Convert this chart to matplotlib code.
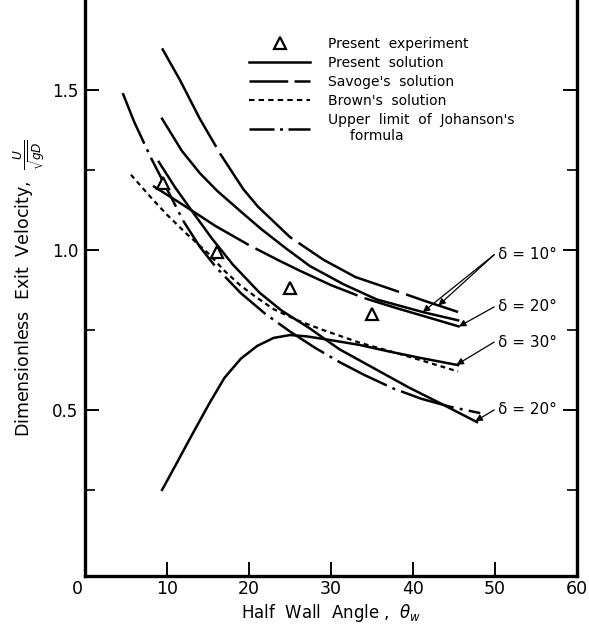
import matplotlib
matplotlib.use("Agg")
import matplotlib.pyplot as plt
from matplotlib.lines import Line2D
import matplotlib.transforms as mtransforms
import numpy as np

plt.rcParams['font.family'] = ['DejaVu Sans']
plt.rcParams['mathtext.fontset'] = 'dejavusans'

# ---- data ----
exp_theta = [9.5, 16.1, 25.0, 35.0]
exp_u = [1.21, 0.995, 0.88, 0.80]

savage10_x = [9.4, 11.6, 14.0, 16.5, 19.3, 21.1, 25.0, 29.1, 33.0, 37.6, 41.5, 45.5]
savage10_y = [1.63, 1.53, 1.41, 1.30, 1.19, 1.135, 1.04, 0.969, 0.915, 0.875, 0.84, 0.806]

present10_x = [9.4, 11.8, 14.0, 16.1, 19.0, 21.5, 24.5, 27.4, 31.5, 35.6, 41.3, 45.5]
present10_y = [1.41, 1.31, 1.24, 1.185, 1.12, 1.065, 1.005, 0.95, 0.893, 0.845, 0.805, 0.78]

savage20_x = [8.3, 12.0, 15.9, 20.0, 23.8, 26.2, 30.0, 34.0, 38.0, 42.0, 45.7]
savage20_y = [1.20, 1.14, 1.075, 1.015, 0.965, 0.935, 0.89, 0.85, 0.818, 0.788, 0.76]

present30_x = [9.4, 11.0, 13.0, 15.2, 17.0, 19.0, 21.0, 23.0, 25.0, 27.0, 30.0, 33.5, 37.0, 41.0, 45.5]
present30_y = [0.25, 0.325, 0.42, 0.522, 0.60, 0.66, 0.70, 0.725, 0.734, 0.73, 0.718, 0.703, 0.683, 0.662, 0.64]

brown_x = [5.6, 8.0, 10.0, 12.4, 15.0, 17.0, 18.9, 21.0, 23.0, 25.9, 29.0, 33.5, 37.0, 41.0, 45.5]
brown_y = [1.235, 1.165, 1.11, 1.05, 0.99, 0.935, 0.89, 0.85, 0.815, 0.78, 0.75, 0.71, 0.685, 0.655, 0.62]

present20_x = [9.0, 11.0, 13.2, 15.5, 18.0, 21.3, 24.0, 27.4, 31.0, 35.6, 39.5, 43.7, 47.8]
present20_y = [1.275, 1.195, 1.116, 1.035, 0.955, 0.866, 0.81, 0.755, 0.69, 0.625, 0.57, 0.516, 0.462]

johanson_x = [4.6, 6.0, 8.0, 10.0, 12.0, 14.0, 16.0, 19.0, 22.0, 25.0, 28.0, 31.0, 34.0, 37.6, 41.0, 44.5, 48.2]
johanson_y = [1.49, 1.40, 1.29, 1.19, 1.09, 1.01, 0.945, 0.865, 0.80, 0.745, 0.695, 0.65, 0.61, 0.567, 0.535, 0.51, 0.49]

x_ticks = [0, 10, 20, 30, 40, 50, 60]
x_tick_labels = ['0', '10', '20', '30', '40', '50', '60']
y_ticks = [0.5, 1.0, 1.5]
y_tick_labels = ['0.5', '1.0', '1.5']
y_minor = [0.25, 0.75, 1.25]

delta_labels = ['δ = 10°', 'δ = 20°', 'δ = 30°', 'δ = 20°']
legend_labels = ['Present  experiment', 'Present  solution', "Savoge's  solution",
                 "Brown's  solution", "Upper  limit  of  Johanson's\n     formula"]

# ---- figure ----
fig = plt.figure(figsize=(5.89, 6.28), dpi=100)
ax = fig.add_axes([85/589, 52/628, 492/589, 576/628])
ax.set_xlim(0, 60)
ax.set_ylim(-0.019, 1.781)

lw = 1.8
savage_ls = (0, (45, 3))
brown_ls = (0, (2.2, 1.8))
joh_ls = (0, (22, 2.5, 1.2, 2.5))

ax.plot(exp_theta, exp_u, linestyle='none', marker='^', ms=9,
        mfc='white', mec='black', mew=1.6, zorder=5)
ax.plot(present10_x, present10_y, color='black', lw=lw)
ax.plot(present20_x, present20_y, color='black', lw=lw)
ax.plot(present30_x, present30_y, color='black', lw=lw)
ax.plot(savage10_x, savage10_y, color='black', lw=lw, linestyle=savage_ls)
ax.plot(savage20_x, savage20_y, color='black', lw=lw, linestyle=savage_ls)
ax.plot(brown_x, brown_y, color='black', lw=1.6, linestyle=brown_ls)
ax.plot(johanson_x, johanson_y, color='black', lw=lw, linestyle=joh_ls)

# legend proxies (legend-style dash patterns)
handles = [
    Line2D([], [], linestyle='none', marker='^', ms=8, mfc='white', mec='black', mew=1.6),
    Line2D([], [], color='black', lw=lw),
    Line2D([], [], color='black', lw=lw, linestyle=(0, (15.5, 2.5))),
    Line2D([], [], color='black', lw=1.5, linestyle=(0, (2.6, 2.0))),
    Line2D([], [], color='black', lw=lw, linestyle=(0, (10, 2.2, 1.2, 2.2, 12, 0))),
]
leg = ax.legend(handles, legend_labels,
                loc='upper left', bbox_to_anchor=(0.322, 0.945), frameon=False,
                fontsize=10, handlelength=4.4, labelspacing=0.36, handletextpad=1.3,
                borderaxespad=0)

# annotations
tx = 50.4
ann = [
    (delta_labels[0], 0.985, [(43.1, np.interp(43.1, savage10_x, savage10_y)),
                              (41.2, np.interp(41.2, present10_x, present10_y))]),
    (delta_labels[1], 0.822, [(45.6, np.interp(45.6, savage20_x, savage20_y))]),
    (delta_labels[2], 0.712, [(45.3, np.interp(45.3, present30_x, present30_y))]),
    (delta_labels[3], 0.50, [(47.6, np.interp(47.6, present20_x, present20_y))]),
]
for label, ty, tips in ann:
    ax.text(tx, ty, label, fontsize=11, ha='left', va='center')
    for (px, py) in tips:
        ax.annotate('', xy=(px, py), xytext=(tx - 0.5, ty),
                    arrowprops=dict(arrowstyle='-|>', color='black', lw=0.9,
                                    mutation_scale=10, shrinkA=0, shrinkB=0))

for s in ['left', 'right', 'bottom']:
    ax.spines[s].set_linewidth(2.4)
ax.spines['top'].set_visible(False)

ax.set_xticks(x_ticks)
ax.set_xticklabels(x_tick_labels)
ax.set_yticks(y_ticks)
ax.set_yticklabels(y_tick_labels)
ax.set_yticks(y_minor, minor=True)
ax.tick_params(axis='both', which='major', direction='in', length=10, width=1.4,
               labelsize=12.5, right=True, top=False)
ax.tick_params(axis='x', which='major', pad=3)
ax.tick_params(axis='y', which='major', pad=5, labelsize=12)
ax.tick_params(axis='y', which='minor', direction='in', length=7, width=1.2, right=True)
ax.tick_params(axis='x', which='minor', bottom=False)

# the "0" label sits slightly left of the axis corner in the original
zero_lbl = ax.get_xticklabels()[0]
zero_lbl.set_transform(zero_lbl.get_transform() +
                       mtransforms.ScaledTranslation(-8/100, 0, fig.dpi_scale_trans))

ax.set_xlabel(r'Half  Wall  Angle ,  $\theta_w$', fontsize=12, labelpad=3)
ax.set_ylabel(r'Dimensionless  Exit  Velocity,  $\frac{U}{\sqrt{gD}}$', fontsize=12.5)
ax.yaxis.set_label_coords(-0.078, 0.5)

fig.savefig('out.png', dpi=100)
